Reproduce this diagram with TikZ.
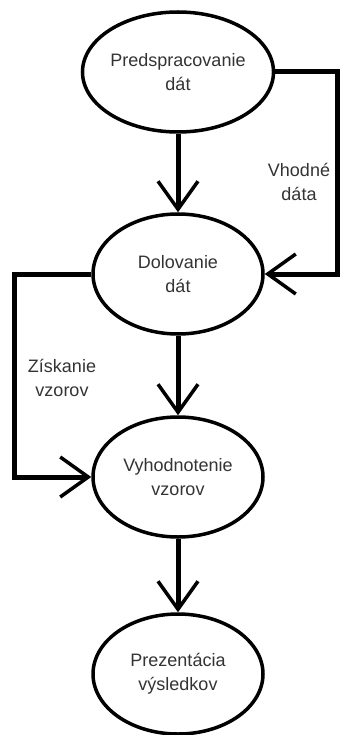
\documentclass[tikz,border=0pt]{standalone}
\usepackage{fontspec}
\setmainfont{Liberation Sans}
\usetikzlibrary{shapes.geometric}
\usetikzlibrary{arrows.meta}

\tikzset{
  stage/.style={draw=black,ellipse,line width=3.5pt,minimum width=170pt,
    minimum height=120pt,inner sep=0pt,align=center,text=black!80,
    font=\fontsize{18}{24}\selectfont},
  flow/.style={line width=5pt,-{Straight Barb[length=28pt,width=40pt,line width=3.5pt]}},
  tag/.style={align=center,text=black!80,font=\fontsize{18}{24}\selectfont}
}

\begin{document}
\begin{tikzpicture}[x=1pt,y=-1pt]
        \useasboundingbox (0,0) rectangle (342,735);
        \node[stage] (prep) at (178,72) {Predspracovanie\\dát};
        \node[stage] (mine) at (178,274) {Dolovanie\\dát};
        \node[stage] (eval) at (178,477) {Vyhodnotenie\\vzorov};
        \node[stage] (show) at (178,674) {Prezentácia\\výsledkov};
        \draw[flow] (prep) -- (mine);
        \draw[flow] (mine) -- (eval);
        \draw[flow] (eval) -- (show);
        % side loops
        \draw[flow] (prep.east) -- (337,72) |- (mine.east);
        \draw[flow] (mine.west) -- (14,274) |- (eval.west);
        \node[tag] (good) at (299,182) {Vhodné\\dáta};
        \node[tag] (found) at (62,378) {Získanie\\vzorov};
      \end{tikzpicture}
\end{document}
